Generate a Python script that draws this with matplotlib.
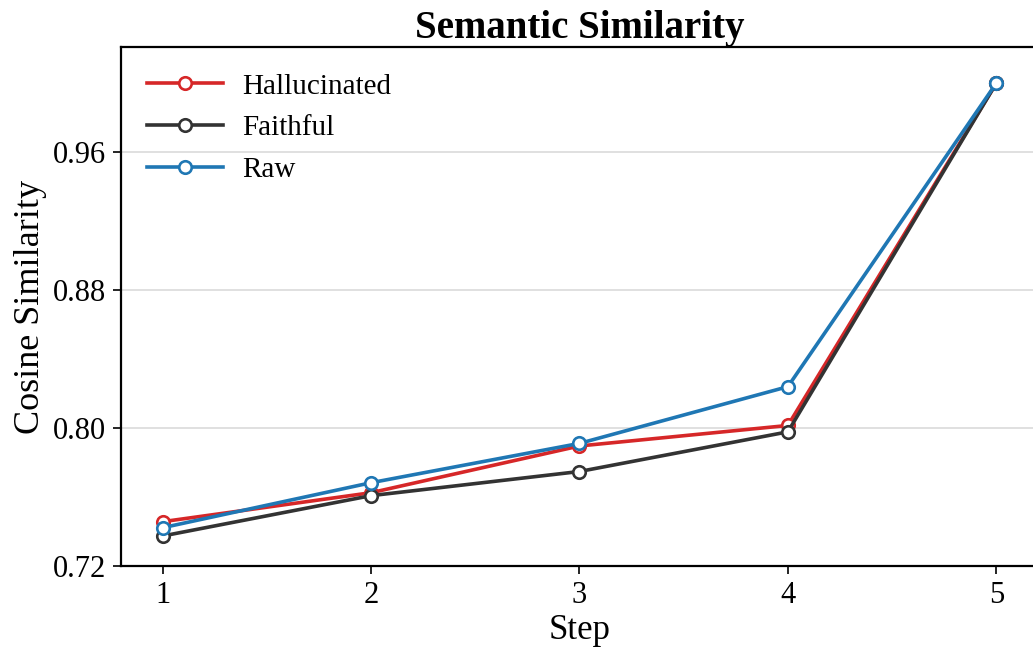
import numpy as np
import matplotlib
matplotlib.use('Agg')
import matplotlib.pyplot as plt

# data
steps = [1, 2, 3, 4, 5]
hallucinated = [0.7457, 0.7625, 0.7896, 0.8015, 1.0]
faithful = [0.7374, 0.7608, 0.7748, 0.7978, 1.0]
raw = [0.7422, 0.7683, 0.7911, 0.8240, 1.0]
y_ticks = [0.72, 0.80, 0.88, 0.96]

plt.rcParams['font.family'] = ['Liberation Serif', 'DejaVu Serif']

fig = plt.figure(figsize=(10.33, 6.47), dpi=100)
# axes slightly wider than the figure so the right spine is cut off as in the reference
ax = fig.add_axes([0.1171, 0.1252, 0.8877, 0.8022])

series = [
    ('Hallucinated', hallucinated, '#d62728'),
    ('Faithful', faithful, '#333333'),
    ('Raw', raw, '#1f77b4'),
]
for name, vals, col in series:
    ax.plot(steps, vals, color=col, lw=2.6, marker='o', ms=9,
            mfc='white', mec=col, mew=1.9, label=name)

ax.set_xlim(0.8, 5.2)
ax.set_ylim(0.72, 1.021)
ax.set_xticks(steps)
ax.set_yticks(y_ticks)
ax.set_yticklabels(['%.2f' % v for v in y_ticks])
ax.yaxis.grid(True, color='#dddddd', lw=1.3)
ax.set_axisbelow(True)

ax.tick_params(axis='both', labelsize=22, length=6, width=1.2, direction='out', pad=5)
for s in ax.spines.values():
    s.set_linewidth(1.6)

ax.set_xlabel('Step', fontsize=25, labelpad=3)
ax.set_ylabel('Cosine Similarity', fontsize=26, labelpad=4)
ax.set_title('Semantic Similarity', fontsize=28, fontweight='bold', pad=6)

ax.legend(loc='upper left', frameon=False, fontsize=21, handlelength=2.6,
          labelspacing=0.52, borderaxespad=0.5, handletextpad=0.65)

fig.savefig('out.png', dpi=100)
